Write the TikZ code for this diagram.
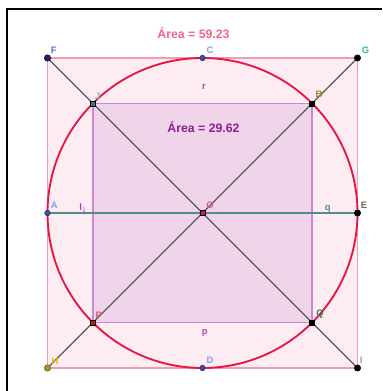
\documentclass[tikz,border=0pt]{standalone}
\usepackage{fontspec}
\setmainfont{Liberation Sans}
\usepackage{tikz}
\usetikzlibrary{positioning,calc}
\definecolor{outerfill}{RGB}{253,237,242}
\definecolor{outerline}{RGB}{245,154,181}
\definecolor{innerfill}{RGB}{240,212,234}
\definecolor{innerline}{RGB}{201,138,212}
\definecolor{circred}{RGB}{232,22,68}
\definecolor{diaggray}{RGB}{90,90,90}
\definecolor{tealline}{RGB}{80,140,140}
\definecolor{areapink}{RGB}{245,100,140}
\definecolor{areapurple}{RGB}{140,30,150}
\definecolor{ptblue}{RGB}{90,110,225}
\definecolor{ptdark}{RGB}{30,35,120}
\definecolor{ptgreen}{RGB}{50,190,110}
\definecolor{ptteal}{RGB}{40,130,130}
\definecolor{ptolive}{RGB}{170,130,50}
\definecolor{ptmagenta}{RGB}{200,20,120}
\definecolor{ptred}{RGB}{200,20,30}
\definecolor{ptyellow}{RGB}{215,190,0}
\definecolor{segpurple}{RGB}{160,80,170}

\begin{document}
\begin{tikzpicture}[x=0.03cm,y=0.03cm,
		lbl/.style={font=\fontsize{8}{9}\selectfont\bfseries, inner sep=0.5pt},
		seglbl/.style={font=\fontsize{8}{9}\selectfont\bfseries, inner sep=0.5pt},
		arealbl/.style={font=\fontsize{10.5}{12}\selectfont\bfseries, inner sep=0pt}]
			\useasboundingbox (0,0) rectangle (382,391);
			\draw[line width=1.1pt] (7,0) -- (7,382) -- (382,382);
			
			% points of the figure
			\coordinate (O) at (202.5,178);
			\coordinate (F) at (47.5,333);
			\coordinate (G) at (357.5,333);
			\coordinate (H) at (47.5,23);
			\coordinate (I) at (357.5,23);
			\coordinate (A) at (47.5,178);
			\coordinate (E) at (357.5,178);
			\coordinate (C) at (202.5,333);
			\coordinate (D) at (202.5,23);
			\coordinate (J) at (92.9,287.6);
			\coordinate (B) at (312.1,287.6);
			\coordinate (P) at (92.9,68.4);
			\coordinate (Q) at (312.1,68.4);
			
			\filldraw[fill=outerfill, draw=outerline, line width=1.1pt] (F) -- (G) -- (I) -- (H) -- cycle;
			\filldraw[fill=innerfill, draw=innerline, line width=1.1pt] (J) -- (B) -- (Q) -- (P) -- cycle;
			\draw[circred, line width=1.6pt] (O) circle (155);
			
			\draw[diaggray, line width=1.1pt] (F) -- (I);
			\draw[diaggray, line width=1.1pt] (H) -- (G);
			\draw[tealline, line width=1.4pt] (A) -- (E);
			
			\filldraw[fill=ptdark, draw=black] (F) circle (3.2);
			\filldraw[fill=ptblue!70!black, draw=ptdark] (C) circle (2.8);
			\filldraw[fill=ptblue!70!black, draw=ptdark] (A) circle (2.8);
			\filldraw[fill=ptblue!70!black, draw=ptdark] (D) circle (2.8);
			\filldraw[black] (G) circle (3.2);
			\filldraw[black] (E) circle (3.2);
			\filldraw[black] (I) circle (3.2);
			\filldraw[fill=ptyellow!80!black, draw=black!70] (H) circle (3.2);
			\filldraw[fill=ptteal, draw=black] ($(J)+(-2.6,-2.6)$) rectangle ++(5.2,5.2);
			\filldraw[black] ($(B)+(-2.6,-2.6)$) rectangle ++(5.2,5.2);
			\filldraw[black] ($(Q)+(-2.6,-2.6)$) rectangle ++(5.2,5.2);
			\filldraw[fill=ptred, draw=black] ($(P)+(-2.6,-2.6)$) rectangle ++(5.2,5.2);
			\filldraw[fill=ptmagenta, draw=black] ($(O)+(-2.6,-2.6)$) rectangle ++(5.2,5.2);
			
			\node[lbl, text=ptblue, above right=1.2mm and 0.8mm of F] (lF) {F};
			\node[lbl, text=ptblue!70, above right=1mm and 1mm of C] (lC) {C};
			\node[lbl, text=ptgreen, above right=1mm and 1.1mm of G] (lG) {G};
			\node[lbl, text=ptteal!60, above right=1mm and 0.4mm of J] (lJ) {J};
			\node[lbl, text=ptolive, above right=1.4mm and 0.8mm of B] (lB) {B};
			\node[lbl, text=ptblue!70, above right=1mm and 0.8mm of A] (lA) {A};
			\node[lbl, text=ptmagenta!70, above right=1.1mm and 0.9mm of O] (lO) {O};
			\node[lbl, text=black!60, above right=1mm and 0.8mm of E] (lE) {E};
			\node[lbl, text=ptred!70, above right=1mm and 0.6mm of P] (lP) {P};
			\node[lbl, text=ptyellow, above right=0.8mm and 1mm of H] (lH) {H};
			\node[lbl, text=ptgreen!70!black, above right=1.1mm and 1mm of Q] (lQ) {Q};
			\node[lbl, text=ptblue!70, above right=1mm and 1mm of D] (lD) {D};
			\node[lbl, text=segpurple!70, above right=1.1mm and 0.5mm of I] (lI) {I};
			
			\node[seglbl, text=segpurple] (lr) at (204,304) {r};
			\node[seglbl, text=segpurple] (lp) at (204.7,58) {p};
			\node[seglbl, text=tealline] (lq) at (327.7,182) {q};
			\node[seglbl, text=segpurple!80!magenta] (ll) at (83,183) {l$_1$};
			
			\node[arealbl, text=areapink] (area1) at (193.5,358) {Área = 59.23};
			\node[arealbl, text=areapurple] (area2) at (203.5,264) {Área = 29.62};
		\end{tikzpicture}
\end{document}
